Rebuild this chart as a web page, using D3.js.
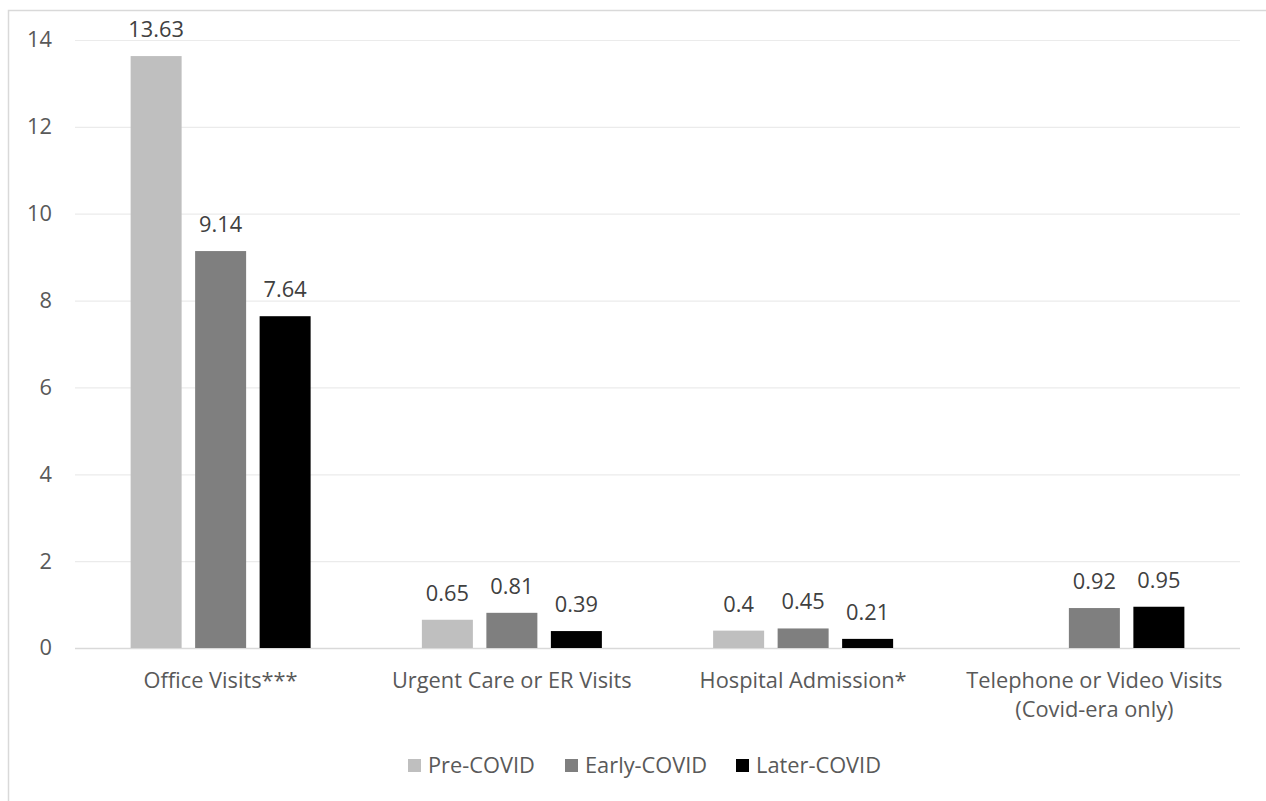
<!DOCTYPE html>
<html><head><meta charset="utf-8">
<script src="https://cdn.jsdelivr.net/npm/d3@7"></script>
<style>body{margin:0;background:#fff}svg{display:block}text{font-family:"Open Sans",sans-serif}</style>
</head><body>
<svg id="c" width="1266" height="801"></svg>
<script>
const categories = [["Office Visits***"],["Urgent Care or ER Visits"],["Hospital Admission*"],["Telephone or Video Visits","(Covid-era only)"]];
const seriesNames = ["Pre-COVID","Early-COVID","Later-COVID"];
const seriesColors = ["#bfbfbf","#7f7f7f","#000000"];
const preCovid = [13.63, 0.65, 0.4, null];
const earlyCovid = [9.14, 0.81, 0.45, 0.92];
const laterCovid = [7.64, 0.39, 0.21, 0.95];
const yTicks = [0,2,4,6,8,10,12,14];

(function(){
const FS = 21.8;
const series = [preCovid, earlyCovid, laterCovid];
const svg = d3.select("#c");
svg.append("rect").attr("x",8.5).attr("y",10.5).attr("width",1280).attr("height",820)
  .attr("fill","none").attr("stroke","#d9d9d9").attr("stroke-width",1.5);

const pl=75, pr=1240, pt=40, pb=648;
const x = d3.scaleBand().domain(d3.range(categories.length)).range([pl,pr]);
const y = d3.scaleLinear().domain([0,14]).range([pb,pt]);
const barW = 51, step = 64.5;

const g = svg.append("g");
const yAxis = d3.axisLeft(y).tickValues(yTicks).tickSize(-(pr-pl)).tickFormat(d3.format("d"));
const ya = g.append("g").attr("transform",`translate(${pl},0)`).call(yAxis);
ya.select(".domain").remove();
ya.selectAll(".tick line").attr("stroke",d=>d===0?"#d9d9d9":"#ebebeb").attr("stroke-width",d=>d===0?1.5:1.2);
ya.selectAll(".tick text").attr("x",-23).attr("fill","#595959").attr("font-size",FS).style("font-family","Open Sans");

series.forEach((vals,si)=>{
  const dd = vals.map((v,i)=>({v,i})).filter(d=>d.v!==null);
  g.selectAll(null).data(dd).enter()
    .append("rect")
    .attr("x",d=>x(d.i)+x.bandwidth()/2+(si-1)*step-barW/2)
    .attr("y",d=>y(d.v)).attr("width",barW).attr("height",d=>y(0)-y(d.v))
    .attr("fill",seriesColors[si]);
  g.selectAll(null).data(dd).enter()
    .append("text")
    .attr("x",d=>x(d.i)+x.bandwidth()/2+(si-1)*step)
    .attr("y",d=>y(d.v)-19)
    .attr("text-anchor","middle").attr("fill","#404040").attr("font-size",FS)
    .text(d=>String(d.v));
});

const xa = g.append("g");
categories.forEach((lines,i)=>{
  lines.forEach((l,k)=>xa.append("text").attr("x",x(i)+x.bandwidth()/2).attr("y",688+k*29)
    .attr("text-anchor","middle").attr("fill","#595959").attr("font-size",FS).text(l));
});

const legX = [408,565,736];
seriesNames.forEach((n,i)=>{
  svg.append("rect").attr("x",legX[i]).attr("y",759).attr("width",13).attr("height",13).attr("fill",seriesColors[i]);
  svg.append("text").attr("x",legX[i]+20).attr("y",773).attr("fill","#595959").attr("font-size",FS).text(n);
});
})();
</script>
</body></html>
